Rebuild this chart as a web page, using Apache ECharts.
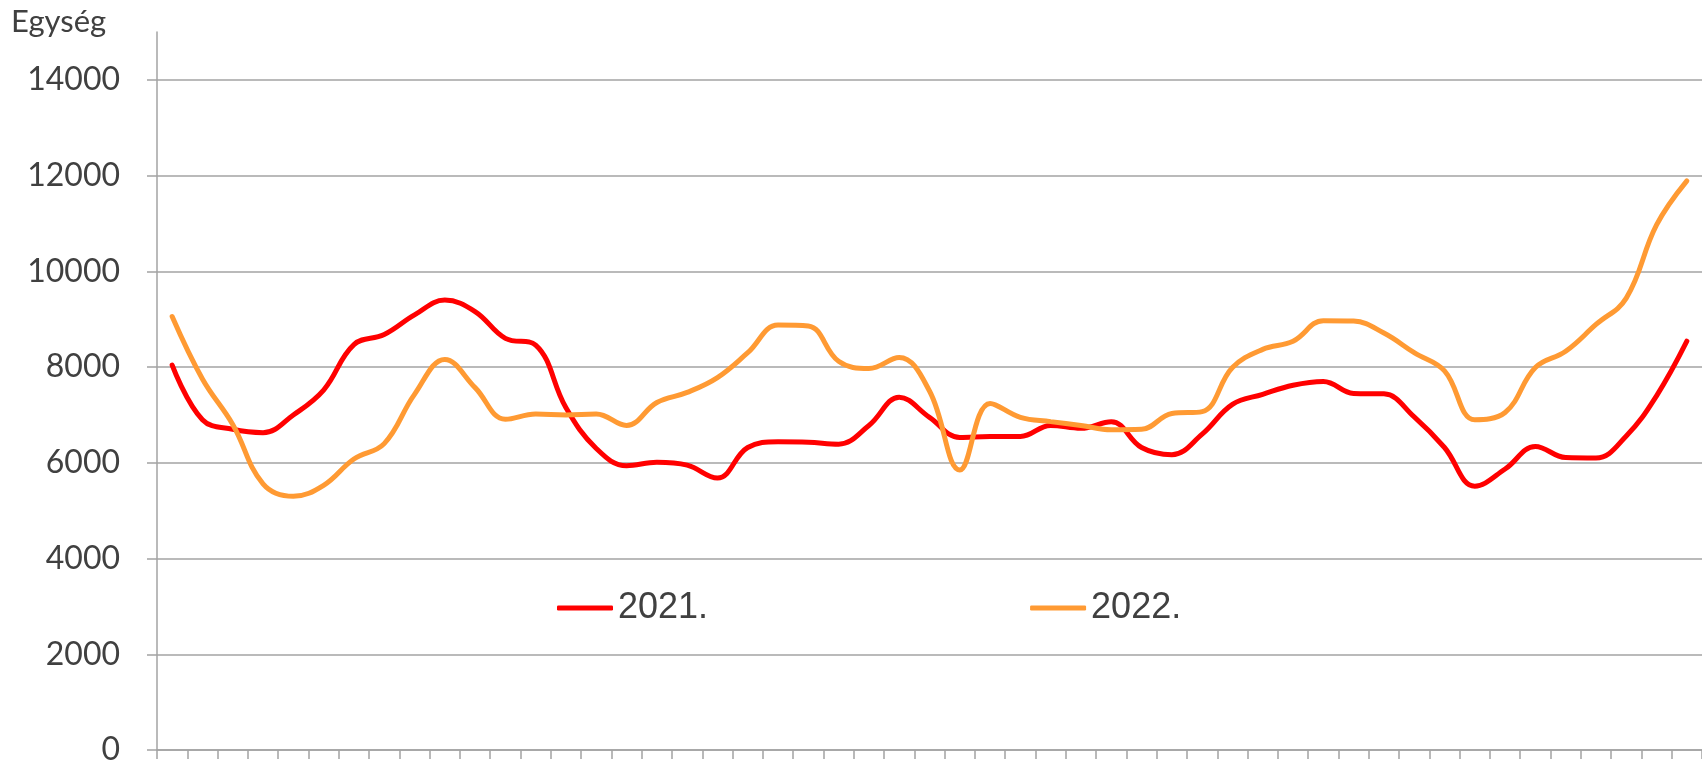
<!DOCTYPE html>
<html>
<head>
<meta charset="utf-8">
<script src="https://cdn.jsdelivr.net/npm/echarts@6/dist/echarts.min.js"></script>
<style>
  html, body { margin: 0; padding: 0; background: #ffffff; }
  #chart { width: 1702px; height: 766px; }
</style>
</head>
<body>
<div id="chart"></div>
<script>
  // heti adatok, 51 hét
  const weeks = ['1', '2', '3', '4', '5', '6', '7', '8', '9', '10', '11', '12', '13', '14', '15', '16', '17',
    '18', '19', '20', '21', '22', '23', '24', '25', '26', '27', '28', '29', '30', '31', '32', '33', '34',
    '35', '36', '37', '38', '39', '40', '41', '42', '43', '44', '45', '46', '47', '48', '49', '50', '51'];

  const values2021 = [8040, 6900, 6700, 6630, 7000, 7520, 8470, 8680, 9090, 9400, 9160, 8600, 8460, 7150,
    6300, 5940, 6010, 5950, 5680, 6320, 6440, 6430, 6390, 6780, 7370, 6950, 6530, 6550, 6550, 6780,
    6720, 6860, 6320, 6170, 6600, 7220, 7430, 7620, 7700, 7450, 7440, 6960, 6320, 5510, 5870, 6340,
    6110, 6100, 6560, 7400, 8540];

  const values2022 = [9055, 7750, 6800, 5560, 5300, 5530, 6080, 6400, 7430, 8160, 7570, 6910, 7020, 7000,
    7020, 6780, 7260, 7470, 7780, 8300, 8880, 8860, 8120, 7970, 8200, 7500, 5850, 7240, 6950, 6860,
    6780, 6690, 6700, 7030, 7070, 7990, 8370, 8540, 8970, 8960, 8710, 8300, 7920, 6900, 7050, 7990,
    8330, 8890, 9440, 10970, 11890];

  const yTicks = [0, 2000, 4000, 6000, 8000, 10000, 12000, 14000];

  const gray = '#a3a3a3';
  const textColor = '#404040';

  const myChart = echarts.init(document.getElementById('chart'));
  const chartOption = {
    animation: false,
    backgroundColor: '#ffffff',
    title: {
      text: 'Egység',
      left: 11,
      top: 6,
      padding: 0,
      textStyle: {
        fontFamily: 'Lato',
        fontSize: 31,
        fontWeight: 'normal',
        color: textColor
      }
    },
    legend: {
      left: 557,
      top: 590,
      padding: 0,
      itemGap: 322,
      itemWidth: 56,
      itemHeight: 5,
      icon: 'roundRect',
      textStyle: {
        fontFamily: 'Liberation Sans',
        fontSize: 36,
        color: textColor
      },
      data: ['2021.', '2022.']
    },
    grid: {
      left: 157,
      top: 32,
      width: 1550,
      bottom: 11.4,
      containLabel: false
    },
    xAxis: {
      type: 'category',
      data: weeks,
      boundaryGap: true,
      axisLine: { lineStyle: { color: gray, width: 1.5 } },
      axisTick: { show: true, length: 9, lineStyle: { color: gray, width: 1.5 } },
      axisLabel: { show: false },
      splitLine: { show: false }
    },
    yAxis: {
      type: 'value',
      min: 0,
      max: 15000,
      interval: 2000,
      axisLine: { show: true, lineStyle: { color: gray, width: 1.5 } },
      axisTick: {
        show: true,
        length: 10,
        customValues: yTicks,
        lineStyle: { color: gray, width: 1.5 }
      },
      axisLabel: {
        customValues: yTicks,
        formatter: function (v) { return String(v); },
        margin: 37,
        fontFamily: 'Lato',
        fontSize: 32,
        color: textColor
      },
      splitLine: {
        show: true,
        lineStyle: { color: gray, width: 1.5 }
      }
    },
    series: [
      {
        name: '2021.',
        type: 'line',
        data: values2021,
        smooth: 0.4,
        symbol: 'none',
        lineStyle: { color: '#ff0000', width: 5, cap: 'round' },
        itemStyle: { color: '#ff0000' }
      },
      {
        name: '2022.',
        type: 'line',
        data: values2022,
        smooth: 0.4,
        symbol: 'none',
        lineStyle: { color: '#ff9a33', width: 5, cap: 'round' },
        itemStyle: { color: '#ff9a33' }
      }
    ]
  };

  myChart.setOption(chartOption);
</script>
</body>
</html>
